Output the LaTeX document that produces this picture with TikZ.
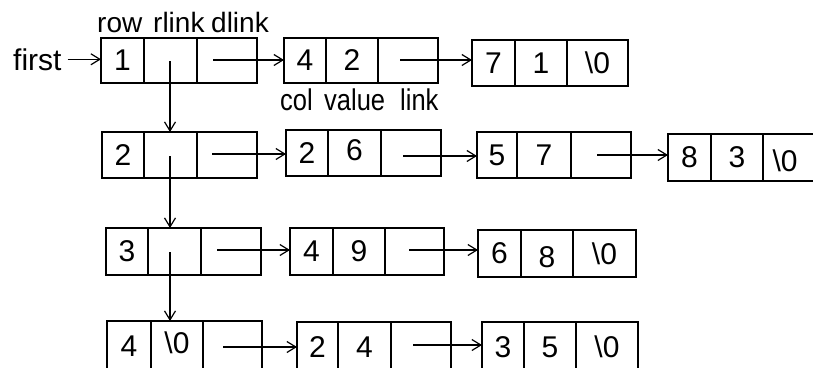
\documentclass[tikz,border=0pt]{standalone}
\usepackage{fontspec}
\setmainfont{Liberation Sans}
\newfontfamily\narrowfont[FakeStretch=0.85]{Liberation Sans}
\usetikzlibrary{arrows.meta}
\tikzset{
  cell/.style={draw, line width=1.7pt, inner sep=0pt, outer sep=0pt, anchor=north west,
    font=\fontsize{30}{30}\selectfont},
  arr/.style={line width=1.3pt, -{Straight Barb[length=9pt,width=11pt,line width=1.2pt]}},
  toplbl/.style={anchor=base west, inner sep=0pt, font=\fontsize{28}{28}\selectfont},
  botlbl/.style={anchor=base west, inner sep=0pt, font=\narrowfont\fontsize{30}{30}\selectfont},
  shifted/.style={font=\fontsize{30}{30}\selectfont, inner sep=0pt}
}
\newcommand{\nul}{\textbackslash 0}
\begin{document}
\begin{tikzpicture}[x=1pt,y=-1pt]
\useasboundingbox (0,0) rectangle (813,367);
\clip (0,0) rectangle (813,367);
% labels
\node[toplbl] (lrow) at (97,32) {row};
\node[toplbl] (lrlink) at (153,32) {rlink};
\node[toplbl] (ldlink) at (211,32) {dlink};
\node[anchor=base west, inner sep=0pt, font=\fontsize{30}{30}\selectfont] (first) at (13,70) {first};
\node[botlbl] (lcol) at (280,110) {col};
\node[botlbl] (lvalue) at (324,110) {value};
\node[botlbl] (llink) at (400,110) {link};
% row 1
\node[cell, minimum width=43pt, minimum height=45pt] (h1a) at (101,38) {1};
\node[cell, minimum width=53pt, minimum height=45pt] (h1b) at (144,38) {};
\node[cell, minimum width=60pt, minimum height=45pt] (h1c) at (197,38) {};
\node[cell, minimum width=42pt, minimum height=45pt] (n12a) at (284,38) {4};
\node[cell, minimum width=52pt, minimum height=45pt] (n12b) at (326,38) {2};
\node[cell, minimum width=60pt, minimum height=45pt] (n12c) at (378,38) {};
\node[cell, minimum width=43pt, minimum height=46pt] (n13a) at (472,40) {7};
\node[cell, minimum width=52pt, minimum height=46pt] (n13b) at (515,40) {1};
\node[cell, minimum width=61pt, minimum height=46pt] (n13c) at (567,40) {\nul};
% row 2
\node[cell, minimum width=42pt, minimum height=46pt] (h2a) at (102,132) {2};
\node[cell, minimum width=53pt, minimum height=46pt] (h2b) at (144,132) {};
\node[cell, minimum width=60pt, minimum height=46pt] (h2c) at (197,132) {};
\node[cell, minimum width=42pt, minimum height=46pt] (n22a) at (286,130) {2};
\node[cell, minimum width=53pt, minimum height=46pt] (n22b) at (328,130) {};
\node[shifted] (t22b) at ([yshift=3pt]n22b.center) {6};
\node[cell, minimum width=60pt, minimum height=46pt] (n22c) at (381,130) {};
\node[cell, minimum width=40pt, minimum height=46pt] (n23a) at (477,132) {5};
\node[cell, minimum width=54pt, minimum height=46pt] (n23b) at (517,132) {7};
\node[cell, minimum width=60pt, minimum height=46pt] (n23c) at (571,132) {};
\node[cell, minimum width=43pt, minimum height=47pt] (n24a) at (668,134) {8};
\node[cell, minimum width=52pt, minimum height=47pt] (n24b) at (711,134) {3};
\node[cell, minimum width=60pt, minimum height=47pt] (n24c) at (763,134) {};
\node[shifted] (t24c) at (785,161) {\nul};
% row 3
\node[cell, minimum width=42pt, minimum height=47pt] (h3a) at (106,228) {3};
\node[cell, minimum width=53pt, minimum height=47pt] (h3b) at (148,228) {};
\node[cell, minimum width=60pt, minimum height=47pt] (h3c) at (201,228) {};
\node[cell, minimum width=43pt, minimum height=47pt] (n32a) at (290,228) {4};
\node[cell, minimum width=52pt, minimum height=47pt] (n32b) at (333,228) {9};
\node[cell, minimum width=59pt, minimum height=47pt] (n32c) at (385,228) {};
\node[cell, minimum width=43pt, minimum height=47pt] (n33a) at (478,230) {6};
\node[cell, minimum width=52pt, minimum height=47pt] (n33b) at (521,230) {};
\node[shifted] (t33b) at ([yshift=-3.5pt]n33b.center) {8};
\node[cell, minimum width=63pt, minimum height=47pt] (n33c) at (573,230) {\nul};
% row 4
\node[cell, minimum width=44pt, minimum height=50pt] (h4a) at (107,321) {4};
\node[cell, minimum width=52pt, minimum height=50pt] (h4b) at (151,321) {};
\node[shifted] (t4b) at ([yshift=3pt]h4b.center) {\nul};
\node[cell, minimum width=59pt, minimum height=50pt] (h4c) at (203,321) {};
\node[cell, minimum width=41pt, minimum height=50pt] (n42a) at (297,322) {2};
\node[cell, minimum width=53pt, minimum height=50pt] (n42b) at (338,322) {4};
\node[cell, minimum width=60pt, minimum height=50pt] (n42c) at (391,322) {};
\node[cell, minimum width=42pt, minimum height=50pt] (n43a) at (482,322) {3};
\node[cell, minimum width=52pt, minimum height=50pt] (n43b) at (524,322) {5};
\node[cell, minimum width=62pt, minimum height=50pt] (n43c) at (576,322) {\nul};
% arrow start points
\coordinate (s1) at (213,60);
\coordinate (s2) at (400,60);
\coordinate (s3) at (212,154);
\coordinate (s4) at (403,156);
\coordinate (s5) at (597,155);
\coordinate (s6) at (217,250);
\coordinate (s7) at (409,250);
\coordinate (s8) at (223,347);
\coordinate (s9) at (413,345);
\coordinate (v1) at (170,61);
\coordinate (v2) at (170,156);
\coordinate (v3) at (170,252);
% connectors
\draw[arr, shorten <=6pt] (first.east) -- (first.east -| h1a.west);
\draw[arr] (s1) -- (s1 -| n12a.west);
\draw[arr] (s2) -- (s2 -| n13a.west);
\draw[arr] (s3) -- (s3 -| n22a.west);
\draw[arr] (s4) -- (s4 -| n23a.west);
\draw[arr] (s5) -- (s5 -| n24a.west);
\draw[arr] (s6) -- (s6 -| n32a.west);
\draw[arr] (s7) -- (s7 -| n33a.west);
\draw[arr] (s8) -- (s8 -| n42a.west);
\draw[arr] (s9) -- (s9 -| n43a.west);
\draw[arr] (v1) -- (v1 |- h2b.north);
\draw[arr] (v2) -- (v2 |- h3b.north);
\draw[arr] (v3) -- (v3 |- h4b.north);
\end{tikzpicture}
\end{document}
